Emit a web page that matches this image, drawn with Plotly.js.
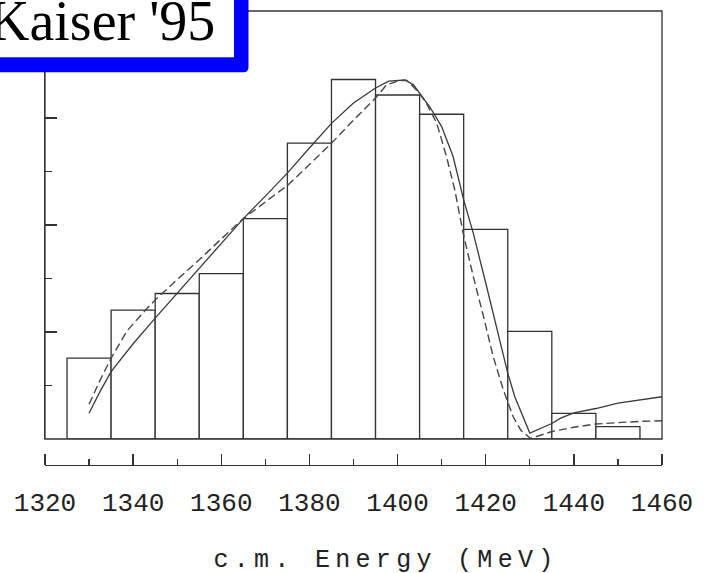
<!DOCTYPE html>
<html>
<head>
<meta charset="utf-8">
<script src="https://cdn.plot.ly/plotly-3.0.1.min.js"></script>
<style>
  html, body { margin: 0; padding: 0; background: #ffffff; }
  #chart { width: 714px; height: 573px; }
</style>
</head>
<body>
<div id="chart"></div>
<script>
// Histogram of events per 10 MeV bin (bin centres, c.m. energy in MeV)
const binCenters = [1330, 1340, 1350, 1360, 1370, 1380, 1390, 1400, 1410, 1420, 1430, 1440, 1450];
const binCounts  = [15.1, 24.1, 27.2, 30.9, 41.2, 55.3, 67.2, 64.3, 60.7, 39.2, 20.1, 4.8, 2.3];
const binWidth = 10;

// Model curve (solid)
const solidE = [1330, 1332.5, 1335, 1340, 1345, 1350, 1355, 1360, 1365, 1370, 1375, 1380, 1385,
                1390, 1395, 1398, 1401.7, 1403.6, 1405, 1407.3, 1410, 1412.6, 1415, 1417.2, 1420.2,
                1423.2, 1425, 1426.6, 1430, 1435, 1437, 1440, 1445, 1450, 1455, 1460];
const solidY = [4.8, 8.9, 12.6, 17.8, 22.6, 27.3, 31.9, 36.6, 41.2, 45.4, 49.7, 54.4, 59.0,
                62.8, 65.6, 66.9, 67.1, 66.2, 64.6, 62.1, 58.4, 52.8, 44.7, 38.4, 28.5,
                18.5, 12.3, 7.9, 1.1, 2.9, 3.9, 4.9, 5.7, 6.7, 7.3, 7.9];

// Model curve (dashed)
const dashedE = [1330, 1332.5, 1335, 1338.6, 1342.8, 1345, 1350, 1355, 1360, 1365, 1370, 1375, 1380,
                 1385, 1390, 1392.2, 1395.3, 1397.5, 1400.5, 1402.1, 1404.7, 1406.6, 1408.9, 1411.1,
                 1413, 1414.9, 1417.2, 1419.5, 1421.7, 1424, 1426.2, 1428, 1430.2, 1435, 1440, 1445,
                 1450, 1455, 1460];
const dashedY = [6.5, 11.0, 15.1, 20.2, 24.1, 26.0, 29.8, 33.5, 37.4, 41.2, 44.3, 47.4, 51.3,
                 55.3, 59.6, 61.5, 64.0, 66.2, 67.0, 67.0, 64.9, 62.7, 59.0, 52.8,
                 46.5, 38.4, 30.3, 22.9, 15.4, 9.2, 4.2, 1.6, 0.1, 1.4, 2.2, 2.8,
                 3.1, 3.3, 3.4];

const energyRange = [1320, 1460];
const xTitle = 'c.m. Energy (MeV)';
const tagText = "Kaiser '95";

// figure geometry (pixels)
const W = 714, H = 573;
const M = { l: 45, r: 52, t: 11, b: 108 };
const plotW = W - M.l - M.r, plotH = H - M.t - M.b;
const px2paperX = (px) => (px - M.l) / plotW;
const px2paperY = (py) => (H - M.b - py) / plotH;
const histBottomPx = 439;

const ink = '#333333';
const mono = 'Liberation Mono, Courier New, monospace';
const serif = 'Liberation Serif, Times New Roman, serif';

const traces = [
  {
    type: 'bar',
    x: binCenters,
    y: binCounts,
    width: binWidth,
    marker: { color: '#ffffff', line: { color: ink, width: 1.3 } },
    hoverinfo: 'skip'
  },
  {
    type: 'scatter', mode: 'lines',
    x: solidE, y: solidY,
    line: { color: '#3a3a3a', width: 1.3 },
    hoverinfo: 'skip'
  },
  {
    type: 'scatter', mode: 'lines',
    x: dashedE, y: dashedY,
    line: { color: '#474747', width: 1.4, dash: '8px,4px' },
    hoverinfo: 'skip'
  },
  // empty trace that carries the upward tick marks of the energy scale
  { type: 'scatter', mode: 'lines', x: [], y: [], xaxis: 'x2', hoverinfo: 'skip' }
];

// rounded blue frame of the tag box, bottom-right corner rounded
function tagPath() {
  const x0 = px2paperX(-10), x1 = px2paperX(248.5);
  const y0 = px2paperY(-10), y1 = px2paperY(72.3);
  const xr = px2paperX(243.5), yr = px2paperY(67.3);
  return `M ${x0},${y0} L ${x1},${y0} L ${x1},${yr} Q ${x1},${y1} ${xr},${y1} L ${x0},${y1} Z`;
}

const layout = {
  width: W, height: H,
  margin: M,
  paper_bgcolor: '#ffffff',
  plot_bgcolor: '#ffffff',
  showlegend: false,
  bargap: 0,
  hovermode: false,
  // energy scale: line and labels
  xaxis: {
    range: energyRange,
    anchor: 'free', position: 0,
    showline: true, linecolor: ink, linewidth: 1.3,
    ticks: '',
    tickmode: 'linear', dtick: 20, tick0: 1320,
    showgrid: false, zeroline: false,
    tickfont: { family: mono, size: 26, color: '#222222' },
    ticklabelstandoff: 13
  },
  // energy scale: tick marks pointing up from the same line
  xaxis2: {
    range: energyRange,
    overlaying: 'x',
    side: 'top', anchor: 'free', position: 0,
    showline: false,
    ticks: 'outside', ticklen: 11, tickwidth: 1.3, tickcolor: ink,
    tickmode: 'linear', dtick: 20, tick0: 1320,
    minor: { dtick: 10, ticks: 'outside', ticklen: 6, tickwidth: 1.3, tickcolor: ink, showgrid: false },
    showticklabels: false, showgrid: false, zeroline: false
  },
  yaxis: {
    range: [0, 80],
    domain: [px2paperY(histBottomPx), 1],
    anchor: 'x',
    showline: true, linecolor: ink, linewidth: 1.3,
    ticks: 'inside', ticklen: 12, tickwidth: 1.3, tickcolor: ink,
    tickmode: 'linear', dtick: 20, tick0: 0,
    minor: { dtick: 10, ticks: 'inside', ticklen: 7, tickwidth: 1.3, tickcolor: ink, showgrid: false },
    showticklabels: false, showgrid: false, zeroline: false
  },
  shapes: [
    { type: 'rect', xref: 'x domain', yref: 'y domain', x0: 0, x1: 1, y0: 0, y1: 1,
      line: { color: ink, width: 1.3 }, layer: 'above' },
    { type: 'path', xref: 'paper', yref: 'paper', path: tagPath(),
      fillcolor: '#0000ff', line: { width: 0 }, layer: 'above' },
    { type: 'rect', xref: 'paper', yref: 'paper',
      x0: px2paperX(-10), x1: px2paperX(234), y0: px2paperY(-10), y1: px2paperY(57.3),
      fillcolor: '#ffffff', line: { width: 0 }, layer: 'above' }
  ],
  annotations: [
    { xref: 'paper', yref: 'paper', x: px2paperX(216.5), y: px2paperY(21),
      xanchor: 'right', yanchor: 'middle', showarrow: false,
      text: tagText, font: { family: serif, size: 56, color: '#000000' } },
    { xref: 'paper', yref: 'paper', x: px2paperX(386), y: px2paperY(560),
      xanchor: 'center', yanchor: 'middle', showarrow: false, width: 380, align: 'center',
      text: xTitle, font: { family: mono, size: 25, color: '#222222' } }
  ]
};

Plotly.newPlot('chart', traces, layout, { staticPlot: true, displayModeBar: false }).then(() => {
  // wide letter spacing for the axis caption
  document.querySelectorAll('#chart .annotation-text').forEach((t) => {
    if (t.textContent === xTitle) t.setAttribute('letter-spacing', '5.3px');
  });
});
</script>
</body>
</html>
